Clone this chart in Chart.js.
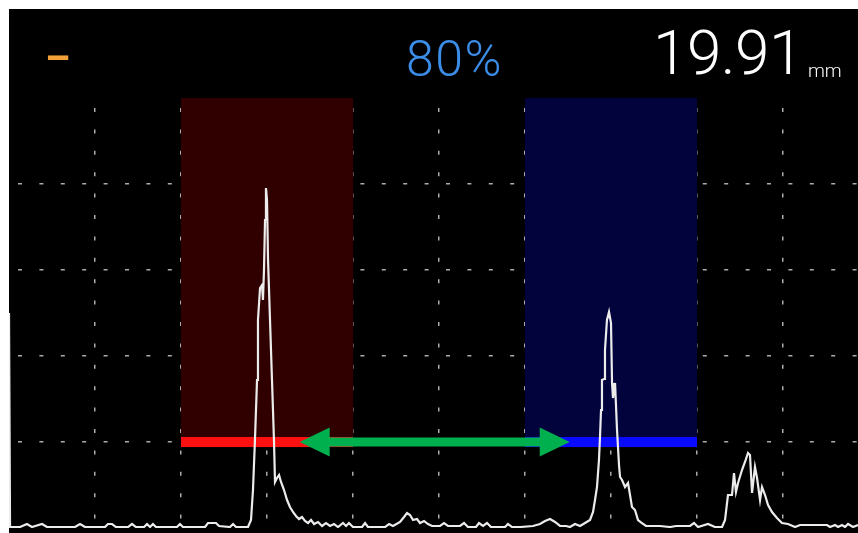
<!DOCTYPE html>
<html>
<head>
<meta charset="utf-8">
<script src="https://cdn.jsdelivr.net/npm/chart.js@4/dist/chart.umd.min.js"></script>
<style>
  html, body { margin: 0; padding: 0; background: #ffffff; }
  body { width: 858px; height: 533px; position: relative; overflow: hidden; }
  #wrap { position: absolute; left: 9px; top: 9px; width: 849px; height: 530px; background: #000000; }
  #c { display: block; }
  .hdr { position: absolute; white-space: nowrap; line-height: 1; font-family: Roboto, "Liberation Sans", sans-serif; font-weight: 300; }
  #dash { left: 45px; top: 39px; font-size: 40px; font-weight: 700; color: #f4a03a; }
  #gain { left: 406px; top: 34px; font-size: 50px; color: #3b8de8; letter-spacing: 1.5px; }
  #thick { left: 653px; top: 22px; font-size: 62px; color: #ffffff; letter-spacing: -0.5px; }
  #unit { left: 808px; top: 61px; font-size: 19px; color: #ffffff; }
</style>
</head>
<body>
<div id="wrap"><canvas id="c" width="849" height="524"></canvas></div>
<div class="hdr" id="dash"></div>
<div class="hdr" id="gain"></div>
<div class="hdr" id="thick"></div>
<div class="hdr" id="unit"></div>
<script>
// ---- header texts ----
const signText = '–';
const gainText = '80%';
const thicknessText = '19.91';
const unitText = 'mm';

// ---- axis ranges (grid divisions of 10 on x, 20 on y) ----
const xMax = 98.72;
const yMax = 100;

// ---- gates (A = red, B = blue) ----
const gateStart = [20, 60];
const gateEnd = [40, 80];
const gateLevel = [20, 20];
const gateTop = [100, 100];
const gateBottom = [18.8, 18.8];

// ---- measurement arrow between gates ----
const arrowFrom = 33.8;
const arrowTo = 65.2;
const arrowLevel = 20;

// ---- A-scan signal (amplitude %, position) ----
const sigX = [0, 0.12, 1.28, 2.09, 2.67, 3.84, 4.42, 7.67, 8.26, 8.84, 11.16, 11.51, 11.98, 12.44, 13.84, 14.30, 14.77, 15.70, 16.05, 16.40, 16.74, 17.09, 19.53, 19.88, 20.23, 22.79, 23.14, 24.07, 24.42, 25.70, 26.05, 26.40, 27.56,
  27.79, 28.14, 28.37, 28.60, 28.84, 28.95, 29.19, 29.42, 29.53, 29.65, 29.77, 29.88, 30.00, 30.12, 30.35, 30.58, 30.81, 30.93, 31.16, 31.40, 31.63, 31.98, 32.33, 32.67, 33.02, 33.37, 33.72, 34.07, 34.42, 34.77, 35.12, 35.47, 35.93, 36.40,
  36.86, 37.33, 37.79, 38.26, 38.84, 39.19, 39.53, 40.00, 41.05, 41.40, 41.74, 43.72, 44.19, 44.65, 45.47, 45.93, 46.28, 46.63, 46.98, 47.44, 47.79, 48.26, 48.72, 49.19, 50.12, 50.58, 51.05, 52.44, 52.91, 53.37, 54.30, 54.65, 55.12, 55.58, 56.05, 57.67, 58.02, 58.49, 59.42,
  60.93, 61.74, 62.33, 62.91, 63.49, 64.07, 64.77, 65.23, 65.81, 66.40, 66.98, 67.56, 67.91, 68.14, 68.37, 68.60, 68.72, 68.84, 68.95, 69.19, 69.30, 69.53, 69.77, 70.00, 70.12, 70.23, 70.47, 70.70, 70.93, 71.05, 71.28, 71.63, 71.98, 72.44, 72.79, 73.14, 73.60, 74.07,
  75.70, 76.86, 77.56, 79.19, 79.65, 80.12, 81.28, 82.09, 82.91, 83.26, 83.60, 84.07, 84.30, 84.53, 84.77, 85.23, 85.58, 85.93, 86.16, 86.40, 86.74, 86.98, 87.33, 87.56, 87.91, 88.26, 88.72, 89.30, 89.88, 90.58, 91.40, 91.98,
  95.12, 95.47, 96.05, 96.40, 96.86, 97.21, 97.56, 98.14, 98.72];
const sigY = [50.0, 0.23, 0.23, 0.93, 0.23, 0.93, 0.23, 0.23, 0.93, 0.23, 0.23, 0.93, 0.93, 0.23, 0.23, 0.93, 0.23, 0.23, 0.93, 0.23, 0.93, 0.23, 0.23, 0.93, 0.23, 0.23, 1.16, 1.16, 0.47, 0.23, 0.93, 0.23, 0.23,
  0.23, 1.86, 8.84, 20.47, 34.42, 48.37, 55.81, 56.51, 53.02, 60.00, 71.63, 79.07, 76.28, 62.33, 48.37, 34.42, 20.47, 10.70, 11.63, 12.33, 10.70, 8.84, 6.51, 4.88, 3.72, 2.79, 2.09, 2.56, 1.63, 1.16, 1.86, 0.93, 1.40, 0.47,
  1.16, 0.47, 0.93, 0.23, 1.16, 0.47, 1.16, 0.23, 0.23, 1.16, 0.23, 0.23, 0.93, 0.47, 1.40, 2.56, 3.49, 3.02, 1.86, 2.09, 1.16, 1.63, 0.93, 0.47, 0.47, 1.16, 0.47, 0.47, 1.16, 0.23, 0.23, 1.16, 0.47, 1.16, 0.23, 0.23, 0.93, 0.23, 0.23,
  0.47, 0.93, 1.63, 2.09, 1.40, 0.47, 0.47, 0.23, 0.93, 0.47, 1.16, 1.86, 3.72, 6.51, 9.53, 15.81, 21.16, 27.44, 34.42, 34.65, 41.40, 48.37, 50.23, 47.67, 33.72, 30.23, 33.72, 22.79, 14.65, 11.86, 11.16, 9.53, 10.47, 4.88, 4.19, 1.86, 1.16, 0.47,
  0.47, 0.23, 0.47, 0.47, 1.16, 0.23, 0.93, 0.23, 0.23, 1.86, 7.67, 7.67, 12.79, 8.37, 10.47, 13.49, 15.35, 17.44, 16.98, 8.14, 14.19, 11.63, 6.51, 9.53, 7.67, 5.35, 3.72, 2.33, 1.16, 0.93, 0.23, 0.70,
  0.70, 0.23, 0.70, 0.23, 0.70, 0.23, 0.93, 0.23, 0.70];

document.getElementById('dash').textContent = signText;
document.getElementById('gain').textContent = gainText;
document.getElementById('thick').textContent = thicknessText;
document.getElementById('unit').textContent = unitText;

const gateFills = ['#300000', '#02023c'];
const gateLines = ['#ff1010', '#0a0aff'];

const signal = sigX.map((x, i) => ({ x: x, y: sigY[i] }));

const datasets = [{
  label: 'signal',
  data: signal,
  borderColor: '#ececec',
  borderWidth: 2.2,
  pointRadius: 0,
  tension: 0,
  fill: false,
  order: 0
}];
gateStart.forEach((s, i) => {
  datasets.push({
    label: 'gate line ' + i,
    data: [{ x: s, y: gateLevel[i] }, { x: gateEnd[i], y: gateLevel[i] }],
    borderColor: gateLines[i],
    borderWidth: 10,
    borderCapStyle: 'butt',
    pointRadius: 0,
    fill: false,
    order: 1
  });
  datasets.push({
    label: 'gate ' + i,
    data: [{ x: s, y: gateTop[i] }, { x: gateEnd[i], y: gateTop[i] }],
    borderWidth: 0,
    borderColor: 'rgba(0,0,0,0)',
    backgroundColor: gateFills[i],
    pointRadius: 0,
    fill: { value: gateBottom[i] },
    order: 2
  });
});

const arrowPlugin = {
  id: 'arrow',
  afterDraw(chart) {
    const xs = chart.scales.x, ys = chart.scales.y, ctx = chart.ctx;
    const x1 = xs.getPixelForValue(arrowFrom);
    const x2 = xs.getPixelForValue(arrowTo);
    const y = ys.getPixelForValue(arrowLevel);
    const head = 30, half = 14.5, shaft = 4.5;
    ctx.save();
    ctx.fillStyle = '#00b04f';
    ctx.beginPath();
    ctx.moveTo(x1, y);
    ctx.lineTo(x1 + head, y - half);
    ctx.lineTo(x1 + head, y - shaft);
    ctx.lineTo(x2 - head, y - shaft);
    ctx.lineTo(x2 - head, y - half);
    ctx.lineTo(x2, y);
    ctx.lineTo(x2 - head, y + half);
    ctx.lineTo(x2 - head, y + shaft);
    ctx.lineTo(x1 + head, y + shaft);
    ctx.lineTo(x1 + head, y + half);
    ctx.closePath();
    ctx.fill();
    ctx.restore();
  }
};

const gridColor = 'rgba(215,215,215,0.8)';

new Chart(document.getElementById('c'), {
  type: 'line',
  data: { datasets: datasets },
  plugins: [arrowPlugin],
  options: {
    responsive: false,
    maintainAspectRatio: false,
    devicePixelRatio: 1,
    animation: false,
    layout: { padding: { top: 89, bottom: 5, left: 0, right: 0 } },
    plugins: { legend: { display: false }, tooltip: { enabled: false } },
    scales: {
      x: {
        type: 'linear', min: 0, max: xMax, z: 1,
        ticks: { display: false, stepSize: 10 },
        border: { display: false, dash: [4, 17.4], dashOffset: 11.4 },
        grid: {
          drawTicks: false, lineWidth: 1.5,
          color: (c) => (c.tick && c.tick.value > 0 && c.tick.value < xMax && Math.abs(c.tick.value % 10) < 1e-6) ? gridColor : 'rgba(0,0,0,0)'
        }
      },
      y: {
        type: 'linear', min: 0, max: yMax, z: 1,
        ticks: { display: false, stepSize: 20 },
        border: { display: false, dash: [4, 17.4], dashOffset: 12.4 },
        grid: {
          drawTicks: false, lineWidth: 1.5,
          color: (c) => (c.tick && c.tick.value > 0 && c.tick.value < yMax) ? gridColor : 'rgba(0,0,0,0)'
        }
      }
    }
  }
});
</script>
</body>
</html>
